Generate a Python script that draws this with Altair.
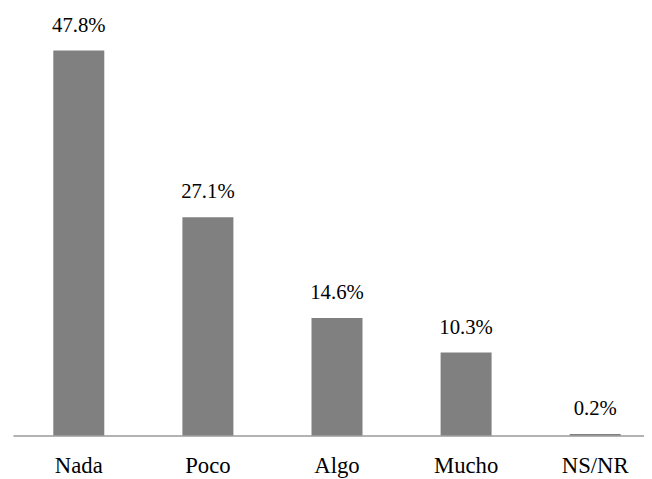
import altair as alt
import pandas as pd

categories = ["Nada", "Poco", "Algo", "Mucho", "NS/NR"]
values = [47.8, 27.1, 14.6, 10.3, 0.2]

df = pd.DataFrame({"cat": categories, "value": values})

FONT = "Liberation Serif"

x = alt.X(
    "cat:N",
    sort=categories,
    title=None,
    scale=alt.Scale(paddingInner=0.605, paddingOuter=0.2465, align=0.634),
    axis=alt.Axis(
        labelAngle=0,
        ticks=False,
        tickSize=0,
        labelPadding=37,
        labelBaseline="alphabetic",
        labelFont=FONT,
        labelFontSize=23,
        labelColor="#000000",
        domainColor="#9a9a9a",
        domainWidth=1.5,
        grid=False,
    ),
)
y = alt.Y("value:Q", scale=alt.Scale(domain=[0, 50], nice=False), axis=None)

base = alt.Chart(df)
bars = base.mark_bar(color="#808080").encode(x=x, y=y)
text = base.transform_calculate(
    label="format(datum.value, '.1f') + '%'"
).mark_text(
    baseline="alphabetic", dy=-19, font=FONT, fontSize=21, color="#000000"
).encode(x=x, y=y, text="label:N")

chart = (bars + text).properties(
    width=639,
    height=408,
    autosize=alt.AutoSizeParams(type="none"),
    padding={"left": 5, "top": 22, "right": 0, "bottom": 42},
).configure(background="white", font=FONT).configure_view(stroke=None)

chart.save("out.html", embed_options={"renderer": "svg", "actions": False})
